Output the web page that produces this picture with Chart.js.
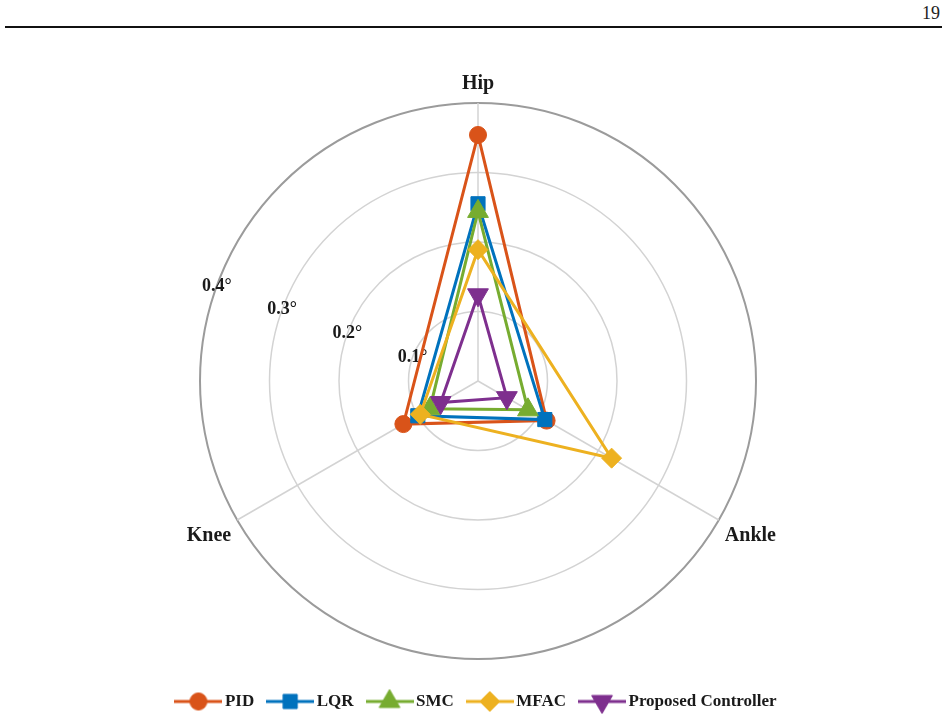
<!DOCTYPE html>
<html>
<head>
<meta charset="utf-8">
<title>Tracking error radar</title>
<script src="https://cdn.jsdelivr.net/npm/chart.js@4.4.0/dist/chart.umd.min.js"></script>
<style>
  html, body { margin: 0; padding: 0; background: #fff; }
  #page { position: relative; width: 948px; height: 720px; overflow: hidden; }
  #pageNo { position: absolute; right: 8px; top: 3px; font: 18px "Liberation Serif", serif; color: #222; }
  #rule { position: absolute; left: 5px; right: 6px; top: 26px; border-top: 2px solid #111; }
  #chartRadar { position: absolute; left: 0; top: 0; }
</style>
</head>
<body>
<div id="page">
  <div id="pageNo">19</div>
  <div id="rule"></div>
  <canvas id="chartRadar" width="948" height="720"></canvas>
</div>
<script>
// sumbu (searah jarum jam dari atas)
const joints = ['Hip', 'Ankle', 'Knee'];

// nilai error per controller (derajat)
const pidValues = [0.354, 0.114, 0.124];
const lqrValues = [0.255, 0.111, 0.100];
const smcValues = [0.244, 0.083, 0.080];
const mfacValues = [0.189, 0.222, 0.096];
const proposedValues = [0.124, 0.048, 0.062];

const tickValues = [0.1, 0.2, 0.3, 0.4];
const tickLabels = ['0.1°', '0.2°', '0.3°', '0.4°'];

const SERIF = '"Liberation Serif", "Times New Roman", serif';
const TICK_ANGLE = -160 * Math.PI / 180;

const series = [
    { label: 'PID', data: pidValues, color: '#D95319', style: 'circle', radius: 8.5, rotation: 0 },
    { label: 'LQR', data: lqrValues, color: '#0072BD', style: 'rect', radius: 10, rotation: 0 },
    { label: 'SMC', data: smcValues, color: '#77AC30', style: 'triangle', radius: 12, rotation: 0 },
    { label: 'MFAC', data: mfacValues, color: '#EDB120', style: 'rectRot', radius: 10, rotation: 0 },
    { label: 'Proposed Controller', data: proposedValues, color: '#7E2F8E', style: 'triangle', radius: 12, rotation: 180 }
];

// gambar ikon legend: garis + marker
function legendIcon(s) {
    const c = document.createElement('canvas');
    c.width = 48;
    c.height = 28;
    const g = c.getContext('2d');
    g.strokeStyle = s.color;
    g.fillStyle = s.color;
    g.lineWidth = 3;
    g.beginPath();
    g.moveTo(0, 14);
    g.lineTo(48, 14);
    g.stroke();
    g.lineWidth = 1;
    Chart.helpers.drawPoint(g, { pointStyle: s.style, radius: s.radius, rotation: s.rotation, borderWidth: 1 }, 24, 14);
    return c;
}

// label tick radial ditaruh miring ke kiri atas, teks tidak diputar
const tickLabelPlugin = {
    id: 'tickLabelPlugin',
    beforeDatasetsDraw(chart) {
        const scale = chart.scales.r;
        const ctx = chart.ctx;
        ctx.save();
        ctx.font = 'bold 18px ' + SERIF;
        ctx.fillStyle = '#1a1a1a';
        ctx.textAlign = 'center';
        ctx.textBaseline = 'middle';
        tickValues.forEach((v, i) => {
            const d = scale.getDistanceFromCenterForValue(v);
            ctx.fillText(tickLabels[i], scale.xCenter + d * Math.cos(TICK_ANGLE), scale.yCenter + d * Math.sin(TICK_ANGLE));
        });
        ctx.restore();
    }
};

const icons = series.map(legendIcon);

new Chart(document.getElementById('chartRadar').getContext('2d'), {
    type: 'radar',
    data: {
        labels: joints,
        datasets: series.map((s, i) => ({
            label: s.label,
            data: s.data,
            order: series.length - i,
            borderColor: s.color,
            backgroundColor: s.color,
            fill: false,
            borderWidth: 3,
            tension: 0,
            pointStyle: s.style,
            pointRadius: s.radius,
            pointRotation: s.rotation,
            pointBackgroundColor: s.color,
            pointBorderColor: s.color,
            pointBorderWidth: 1
        }))
    },
    options: {
        responsive: false,
        animation: false,
        devicePixelRatio: 1,
        layout: { padding: { top: 57, bottom: 0, left: 9, right: 0 } },
        plugins: {
            tooltip: { enabled: false },
            legend: {
                position: 'bottom',
                labels: {
                    usePointStyle: true,
                    pointStyleWidth: 36,
                    padding: 18,
                    color: '#1a1a1a',
                    font: { family: SERIF, size: 17, weight: 'bold' },
                    generateLabels: () => series.map((s, i) => ({
                        text: s.label,
                        datasetIndex: i,
                        pointStyle: icons[i],
                        fillStyle: s.color,
                        strokeStyle: s.color,
                        lineWidth: 0,
                        fontColor: '#1a1a1a'
                    }))
                }
            }
        },
        scales: {
            r: {
                min: 0,
                max: 0.4,
                startAngle: 0,
                ticks: { display: false, stepSize: 0.1 },
                grid: {
                    circular: true,
                    color: c => (c.tick && c.tick.value >= 0.4 ? '#9b9b9b' : '#d3d3d3'),
                    lineWidth: c => (c.tick && c.tick.value >= 0.4 ? 2 : 1.5)
                },
                angleLines: { color: '#d3d3d3', lineWidth: 1.5 },
                pointLabels: {
                    color: '#1a1a1a',
                    padding: 7,
                    font: { family: SERIF, size: 20, weight: 'bold' }
                }
            }
        }
    },
    plugins: [tickLabelPlugin]
});
</script>
</body>
</html>
